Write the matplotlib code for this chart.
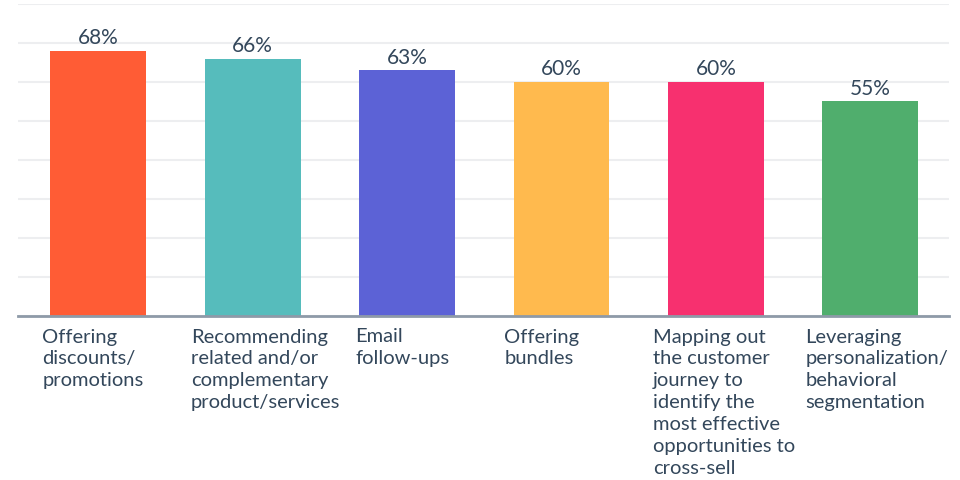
import matplotlib
matplotlib.use("Agg")
import matplotlib.pyplot as plt

categories = [
    "Offering\ndiscounts/\npromotions",
    "Recommending\nrelated and/or\ncomplementary\nproduct/services",
    "Email\nfollow-ups",
    "Offering\nbundles",
    "Mapping out\nthe customer\njourney to\nidentify the\nmost effective\nopportunities to\ncross-sell",
    "Leveraging\npersonalization/\nbehavioral\nsegmentation",
]
values = [68, 66, 63, 60, 60, 55]
value_labels = ["68%", "66%", "63%", "60%", "60%", "55%"]
colors = ["#FF5C35", "#56BCBC", "#5C62D6", "#FFBA4E", "#F7306F", "#50AE6D"]
# per-label horizontal offset (pixels) of the left edge of the label from bar centre
label_offsets_px = [-56, -62, -52, -57, -63, -65]

plt.rcParams['font.family'] = ['Lato', 'DejaVu Sans']
text_color = "#33475B"

fig = plt.figure(figsize=(9.6, 4.8), dpi=100)
W, H = 960, 480
ax_left, ax_right = 18, 949
ax_bottom, ax_top = 316, 4
ax = fig.add_axes([ax_left / W, (H - ax_bottom) / H,
                   (ax_right - ax_left) / W, (ax_bottom - ax_top) / H])

x = list(range(len(values)))
ax.bar(x, values, width=0.62, color=colors, zorder=2)
ax.set_xlim(-0.52, 5.51)
ax.set_ylim(0, 80)
ax.set_yticks(range(0, 81, 10))
ax.yaxis.grid(True, color="#EDEEF0", linewidth=1.5, zorder=0)
ax.tick_params(left=False, labelleft=False, bottom=False, labelbottom=False)
for s in ["top", "right", "left"]:
    ax.spines[s].set_visible(False)
ax.spines["bottom"].set_color("#8E9AA8")
ax.spines["bottom"].set_linewidth(2)
ax.spines["bottom"].set_zorder(3)

for xi, v, lab in zip(x, values, value_labels):
    ax.annotate(lab, (xi, v), xytext=(0, 2), textcoords="offset points",
                ha="center", va="bottom", fontsize=15, color=text_color)

for xi, cat, off in zip(x, categories, label_offsets_px):
    ax.annotate(cat, (xi, 0), xytext=(off * 72 / 100, -9), textcoords="offset points",
                ha="left", va="top", fontsize=14.5, color=text_color,
                linespacing=1.35, annotation_clip=False)

fig.savefig("out.png", dpi=100)
